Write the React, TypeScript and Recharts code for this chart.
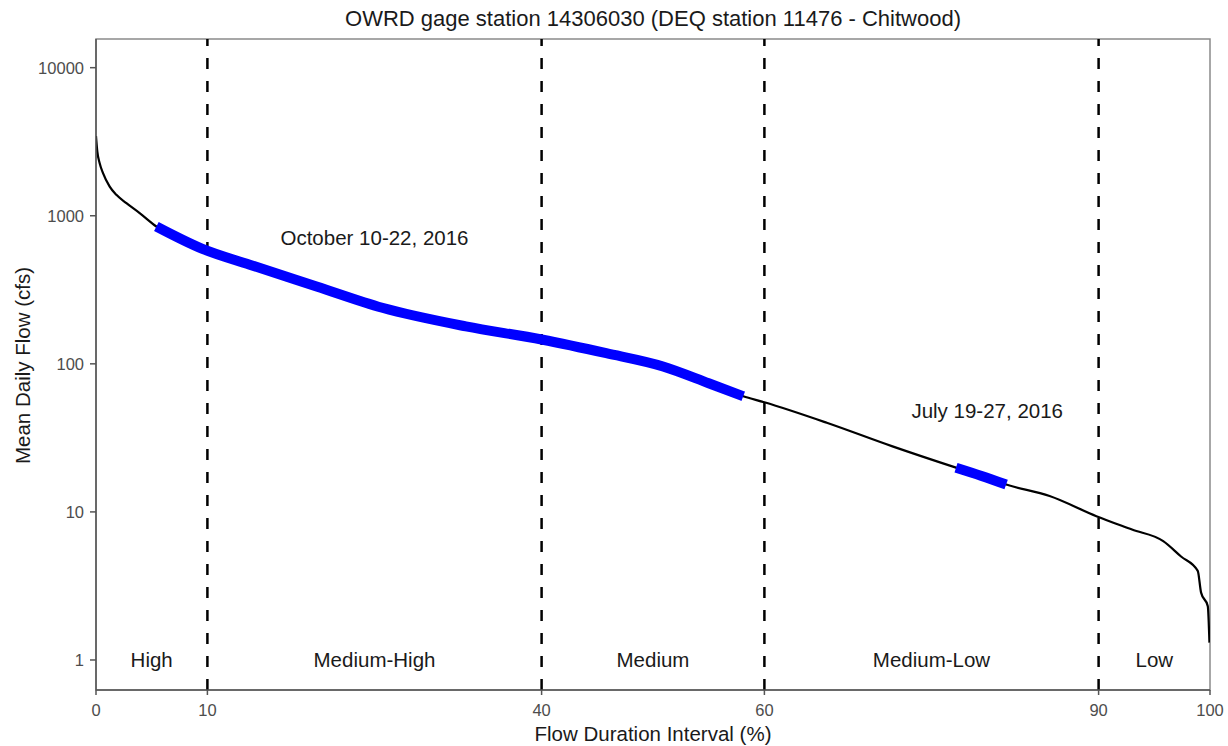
import React from 'react';
import {
  ComposedChart,
  Line,
  XAxis,
  YAxis,
  ReferenceLine,
  ReferenceArea,
  ReferenceDot,
  Label,
} from 'recharts';

// Flow duration curve
const durationPct = [0, 0.12, 0.33, 0.63, 1.23, 1.83, 2.73, 3.92, 5.42, 9.5, 13.8, 19.8, 25.7, 33.2, 40, 45.8, 50.9, 55, 58.1, 60, 65.6, 71.5, 77.2, 79.5, 81.7, 85.6, 89.8, 93, 95.8, 97.4, 98.9, 99.2, 99.8, 99.95];
const meanDailyFlow = [3450, 2710, 2265, 1941, 1574, 1384, 1216, 1042, 846, 600, 467, 333, 239, 179, 146, 118, 96, 74, 60.4, 55, 40, 27.7, 19.9, 17.5, 15.3, 12.8, 9.36, 7.6, 6.35, 5.0, 4.0, 2.85, 2.31, 1.31];

// Sampling periods (duration interval ranges)
const octoberRange = [5.42, 58.1];
const julyRange = [77.2, 81.7];

// Flow condition zones
const zoneBreaks = [10, 40, 60, 90];
const zoneNames = ['High', 'Medium-High', 'Medium', 'Medium-Low', 'Low'];
const zoneCenters = [5, 25, 50, 75, 95];

const xTicks = [0, 10, 40, 60, 90, 100];
const yTicks = [1, 10, 100, 1000, 10000];

const Y_MIN = 0.627;
const Y_MAX = 15620;

const flowData = durationPct.map((p, i) => ({ pct: p, flow: meanDailyFlow[i] }));
const octData = flowData.filter((d) => d.pct >= octoberRange[0] && d.pct <= octoberRange[1]);
const julData = flowData.filter((d) => d.pct >= julyRange[0] && d.pct <= julyRange[1]);

const FONT = "'Liberation Sans', Arial, Helvetica, sans-serif";
const TICK_COLOR = '#4d4d4d';
const TEXT_COLOR = '#1a1a1a';

export default function App() {
  return (
    <div style={{ position: 'absolute', left: 0, top: 0, width: 1228, height: 746, background: '#fff', fontFamily: FONT }}>
      <svg width={1228} height={40} style={{ position: 'absolute', left: 0, top: 0 }}>
        <text x={653} y={26} textAnchor="middle" fontSize={22} fill={TEXT_COLOR} fontFamily={FONT}>
          OWRD gage station 14306030 (DEQ station 11476 - Chitwood)
        </text>
      </svg>
      <div style={{ position: 'absolute', left: 0, top: 0 }}>
        <ComposedChart
          width={1228}
          height={746}
          data={flowData}
          margin={{ top: 39, right: 18, bottom: 0, left: 0 }}
        >
          <ReferenceArea
            x1={0}
            x2={100}
            y1={Y_MIN}
            y2={Y_MAX}
            fill="none"
            stroke="#8a8a8a"
            strokeWidth={1.5}
            ifOverflow="visible"
          />
          <XAxis
            dataKey="pct"
            type="number"
            domain={[0, 100]}
            ticks={xTicks}
            allowDataOverflow
            height={56}
            tickSize={5}
            tickMargin={9}
            axisLine={{ stroke: '#555', strokeWidth: 1.5 }}
            tickLine={{ stroke: '#555', strokeWidth: 1.5 }}
            tick={{ fill: TICK_COLOR, fontSize: 16.5 }}
            interval={0}
          >
            <Label
              value="Flow Duration Interval (%)"
              position="insideBottom"
              offset={5}
              fill={TEXT_COLOR}
              fontSize={20.5}
            />
          </XAxis>
          <YAxis
            type="number"
            scale="log"
            domain={[Y_MIN, Y_MAX]}
            ticks={yTicks}
            allowDataOverflow
            width={96}
            tickSize={6}
            tickMargin={6}
            axisLine={{ stroke: '#555', strokeWidth: 1.5 }}
            tickLine={{ stroke: '#555', strokeWidth: 1.5 }}
            tick={{ fill: TICK_COLOR, fontSize: 16.5 }}
            interval={0}
          >
            <Label
              content={(props: any) => {
                const vb = props.viewBox || { y: 39, height: 652 };
                const cy = vb.y + vb.height / 2 + 1;
                const cx = 29.5;
                return (
                  <text
                    x={cx}
                    y={cy}
                    textAnchor="middle"
                    fontSize={20.5}
                    fill={TEXT_COLOR}
                    transform={`rotate(-90, ${cx}, ${cy})`}
                  >
                    Mean Daily Flow (cfs)
                  </text>
                );
              }}
            />
          </YAxis>
          {zoneBreaks.map((b) => (
            <ReferenceLine
              key={b}
              x={b}
              stroke="#000"
              strokeWidth={2.5}
              strokeDasharray="11 12"
            />
          ))}
          <Line
            data={flowData}
            dataKey="flow"
            type="monotone"
            stroke="#000"
            strokeWidth={2.2}
            dot={false}
            activeDot={false}
            isAnimationActive={false}
          />
          <Line
            data={octData}
            dataKey="flow"
            type="monotone"
            stroke="#0000ff"
            strokeWidth={10}
            strokeLinecap="butt"
            dot={false}
            activeDot={false}
            isAnimationActive={false}
          />
          <Line
            data={julData}
            dataKey="flow"
            type="monotone"
            stroke="#0000ff"
            strokeWidth={10}
            strokeLinecap="butt"
            dot={false}
            activeDot={false}
            isAnimationActive={false}
          />
          {zoneNames.map((name, i) => (
            <ReferenceDot
              key={name}
              x={zoneCenters[i]}
              y={1}
              r={1}
              fill="none"
              stroke="none"
              ifOverflow="visible"
              label={{ value: name, position: 'center', fill: TEXT_COLOR, fontSize: 20.5 }}
            />
          ))}
          <ReferenceDot
            x={25}
            y={716}
            r={1}
            fill="none"
            stroke="none"
            ifOverflow="visible"
            label={{ value: 'October 10-22, 2016', position: 'center', fill: TEXT_COLOR, fontSize: 20.5 }}
          />
          <ReferenceDot
            x={80}
            y={48}
            r={1}
            fill="none"
            stroke="none"
            ifOverflow="visible"
            label={{ value: 'July 19-27, 2016', position: 'center', fill: TEXT_COLOR, fontSize: 20.5 }}
          />
        </ComposedChart>
      </div>
    </div>
  );
}
